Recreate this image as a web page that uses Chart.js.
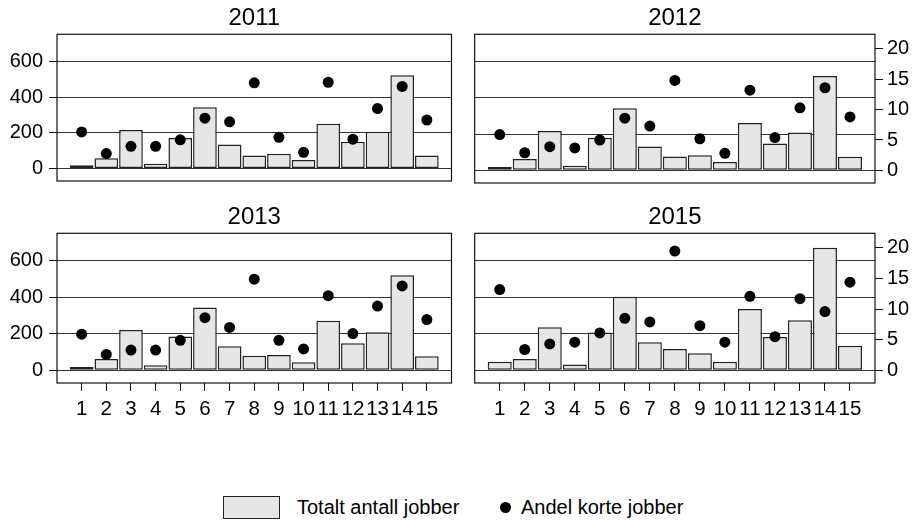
<!DOCTYPE html>
<html lang="no">
<head>
<meta charset="UTF-8">
<title>Totalt antall jobber og andel korte jobber</title>
<script src="https://cdn.jsdelivr.net/npm/chart.js"></script>
<style>
    body {
        margin: 0;
        background: #fff;
        font-family: 'Liberation Sans', Arial, sans-serif;
    }
    .page {
        position: relative;
        width: 914px;
        height: 520px;
        overflow: hidden;
    }
    .panel {
        position: absolute;
    }
    .legend-item {
        position: absolute;
        top: 496px;
        height: 23px;
        display: flex;
        align-items: center;
        font-size: 20px;
        color: #000;
        white-space: nowrap;
    }
    .legend-box {
        width: 55px;
        height: 21px;
        background: #e6e6e6;
        border: 1px solid #222;
        margin-right: 17px;
    }
    .legend-dot {
        width: 11px;
        height: 11px;
        border-radius: 50%;
        background: #000;
        margin-right: 10px;
    }
</style>
</head>
<body>
<div class="page">
    <div class="panel" style="left:0;top:0"><canvas id="p2011" width="457" height="199"></canvas></div>
    <div class="panel" style="left:457px;top:0"><canvas id="p2012" width="457" height="199"></canvas></div>
    <div class="panel" style="left:0;top:199px"><canvas id="p2013" width="457" height="221"></canvas></div>
    <div class="panel" style="left:457px;top:199px"><canvas id="p2015" width="457" height="221"></canvas></div>

    <div class="legend-item" style="left:223px"><div class="legend-box"></div>Totalt antall jobber</div>
    <div class="legend-item" style="left:500px"><div class="legend-dot"></div>Andel korte jobber</div>
</div>

<script>
    // Yrkesgrupper 1-15
    const grupper = [1, 2, 3, 4, 5, 6, 7, 8, 9, 10, 11, 12, 13, 14, 15];

    const totalt2011 = [18, 57, 216, 26, 171, 343, 134, 73, 83, 48, 251, 150, 206, 523, 73];
    const andel2011 = [6.1, 2.5, 3.7, 3.7, 4.8, 8.4, 7.8, 14.3, 5.2, 2.7, 14.4, 4.9, 10.0, 13.7, 8.1];

    const totalt2012 = [18, 62, 218, 26, 180, 343, 132, 77, 84, 46, 262, 149, 209, 521, 75];
    const andel2012 = [5.9, 2.9, 3.9, 3.7, 5.0, 8.6, 7.3, 14.8, 5.2, 2.8, 13.2, 5.4, 10.3, 13.6, 8.8];

    const totalt2013 = [18, 62, 221, 27, 185, 344, 132, 80, 84, 44, 272, 148, 208, 521, 77];
    const andel2013 = [5.9, 2.6, 3.3, 3.3, 4.9, 8.6, 7.0, 14.9, 4.9, 3.5, 12.2, 6.0, 10.5, 13.8, 8.3];

    const totalt2015 = [46, 62, 236, 31, 207, 404, 154, 117, 93, 46, 337, 183, 274, 673, 134];
    const andel2015 = [13.2, 3.4, 4.3, 4.6, 6.1, 8.5, 7.9, 19.5, 7.3, 4.6, 12.1, 5.5, 11.7, 9.6, 14.4];

    const venstreTicks = [0, 200, 400, 600];
    const hoyreTicks = [0, 5, 10, 15, 20];

    const FONT = "'Liberation Sans', Arial, sans-serif";
    Chart.defaults.font.family = FONT;
    Chart.defaults.color = '#000';

    // black frame around the plotting area
    const rammePlugin = {
        id: 'ramme',
        afterDraw(chart) {
            const a = chart.chartArea;
            const ctx = chart.ctx;
            ctx.save();
            ctx.strokeStyle = '#111';
            ctx.lineWidth = 1.2;
            ctx.strokeRect(a.left, a.top, a.right - a.left, a.bottom - a.top);
            ctx.restore();
        }
    };

    function setTicks(values) {
        return scale => { scale.ticks = values.map(v => ({ value: v })); };
    }

    function lagPanel(id, aar, totalt, andel, venstre, nederst) {
        const xyTotalt = grupper.map((g, i) => ({ x: g, y: totalt[i] }));
        const xyAndel = grupper.map((g, i) => ({ x: g, y: andel[i] }));

        new Chart(document.getElementById(id), {
            type: 'bar',
            data: {
                datasets: [
                    {
                        type: 'line',
                        label: 'Andel korte jobber',
                        data: xyAndel,
                        yAxisID: 'y1',
                        showLine: false,
                        pointRadius: 5.5,
                        pointBorderWidth: 0,
                        pointBackgroundColor: '#000',
                        order: 0
                    },
                    {
                        label: 'Totalt antall jobber',
                        data: xyTotalt,
                        yAxisID: 'y',
                        backgroundColor: '#e6e6e6',
                        borderColor: '#222',
                        borderWidth: 1.5,
                        borderSkipped: false,
                        barPercentage: 1,
                        categoryPercentage: 0.96,
                        order: 1
                    }
                ]
            },
            options: {
                responsive: false,
                animation: false,
                events: [],
                layout: {
                    padding: { left: 0, right: venstre ? 1 : 0, top: 0, bottom: nederst ? 0 : 15 }
                },
                plugins: {
                    legend: { display: false },
                    tooltip: { enabled: false },
                    title: {
                        display: true,
                        text: aar,
                        fullSize: false,
                        color: '#000',
                        font: { size: 24, weight: 'normal' },
                        padding: { top: 3.5, bottom: 2 }
                    }
                },
                scales: {
                    x: {
                        type: 'linear',
                        min: 0,
                        max: 16,
                        offset: false,
                        display: nederst,
                        afterBuildTicks: setTicks(grupper),
                        afterFit: s => { s.height = nederst ? 37 : 0; },
                        border: { display: false },
                        grid: {
                            offset: false,
                            drawOnChartArea: false,
                            drawTicks: true,
                            tickLength: 8,
                            tickColor: '#111'
                        },
                        ticks: {
                            autoSkip: false,
                            maxRotation: 0,
                            padding: 6,
                            color: '#000',
                            font: { size: 20.5 }
                        }
                    },
                    y: {
                        position: 'left',
                        min: -70,
                        max: 752,
                        afterBuildTicks: setTicks(venstreTicks),
                        afterFit: s => { s.width = venstre ? 57 : 17.7; },
                        border: { display: false },
                        grid: {
                            color: '#333',
                            lineWidth: 1,
                            drawTicks: venstre,
                            tickLength: 8,
                            tickColor: '#111'
                        },
                        ticks: {
                            display: venstre,
                            autoSkip: false,
                            padding: 6,
                            color: '#000',
                            font: { size: 20 }
                        }
                    },
                    y1: {
                        position: 'right',
                        min: -2.08,
                        max: 22.4,
                        display: !venstre,
                        afterBuildTicks: setTicks(hoyreTicks),
                        afterFit: s => { s.width = venstre ? 0 : 39; },
                        border: { display: false },
                        grid: {
                            drawOnChartArea: false,
                            drawTicks: true,
                            tickLength: 8,
                            tickColor: '#111'
                        },
                        ticks: {
                            autoSkip: false,
                            padding: 4,
                            color: '#000',
                            font: { size: 20 }
                        }
                    }
                }
            },
            plugins: [rammePlugin]
        });
    }

    lagPanel('p2011', '2011', totalt2011, andel2011, true, false);
    lagPanel('p2012', '2012', totalt2012, andel2012, false, false);
    lagPanel('p2013', '2013', totalt2013, andel2013, true, true);
    lagPanel('p2015', '2015', totalt2015, andel2015, false, true);
</script>
</body>
</html>
